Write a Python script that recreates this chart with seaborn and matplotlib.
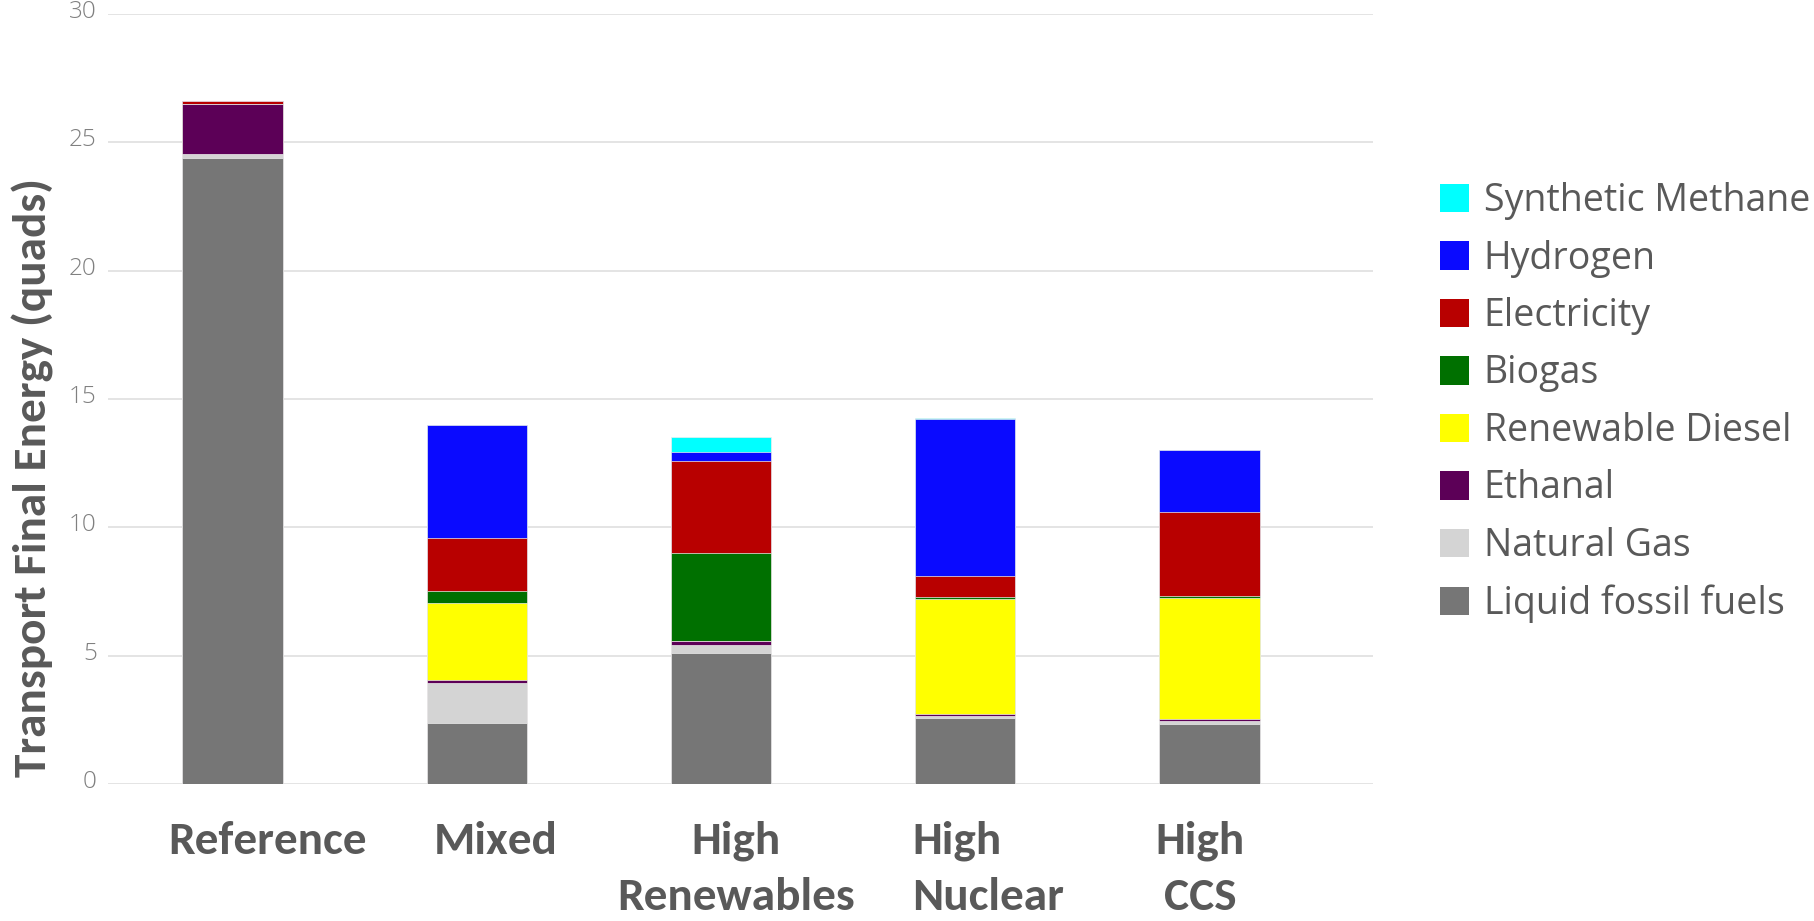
import matplotlib
matplotlib.use("Agg")
import matplotlib.pyplot as plt
from matplotlib.patches import Patch
from matplotlib import font_manager
from matplotlib.transforms import ScaledTranslation
import pandas as pd
import seaborn as sns

# Scenario names and per-fuel transport energy (quads), bottom of stack first
scenarios = ["Reference", "Mixed", "High\nRenewables", "High\nNuclear", "High\nCCS"]
fuels = ["Liquid fossil fuels", "Natural Gas", "Ethanal", "Renewable Diesel",
         "Biogas", "Electricity", "Hydrogen", "Synthetic Methane"]
liquid_fossil = [24.40, 2.36, 5.12, 2.58, 2.34]
natural_gas = [0.15, 1.56, 0.30, 0.05, 0.13]
ethanal = [1.95, 0.13, 0.13, 0.08, 0.07]
renewable_diesel = [0.00, 3.00, 0.00, 4.48, 4.69]
biogas = [0.00, 0.45, 3.44, 0.08, 0.10]
electricity = [0.10, 2.10, 3.60, 0.85, 3.26]
hydrogen = [0.00, 4.40, 0.35, 6.10, 2.43]
synthetic_methane = [0.00, 0.00, 0.58, 0.05, 0.00]
y_ticks = [0, 5, 10, 15, 20, 25, 30]

colors = {
    "Synthetic Methane": "#00FFFF",
    "Hydrogen": "#0A0AFF",
    "Electricity": "#B80000",
    "Biogas": "#007000",
    "Renewable Diesel": "#FFFF00",
    "Ethanal": "#5C0057",
    "Natural Gas": "#D4D4D4",
    "Liquid fossil fuels": "#767676",
}

series = [liquid_fossil, natural_gas, ethanal, renewable_diesel,
          biogas, electricity, hydrogen, synthetic_methane]
rows = []
for fuel, vals in zip(fuels, series):
    for sc, v in zip(scenarios, vals):
        rows.append({"scenario": sc, "fuel": fuel, "value": v})
df = pd.DataFrame(rows)
df["fuel"] = pd.Categorical(df["fuel"], categories=fuels, ordered=True)
df = df.sort_values(["scenario", "fuel"])
df["top"] = df.groupby("scenario", observed=True)["value"].cumsum()

available = {f.name for f in font_manager.fontManager.ttflist}
title_font = next((f for f in ["Carlito", "Open Sans Condensed", "Liberation Sans Narrow"]
                   if f in available), "DejaVu Sans")
body_font = "Open Sans" if "Open Sans" in available else "DejaVu Sans"

sns.set_theme(style="white")
plt.rcParams["font.family"] = [body_font, "DejaVu Sans"]

fig = plt.figure(figsize=(18.14, 9.21), dpi=100)
ax = fig.add_axes([0.0595, 0.1488, 0.6975, 0.8362])

# Stacked bars: draw cumulative tops from the highest layer down
for fuel in reversed(fuels):
    sub = df[df["fuel"] == fuel]
    sns.barplot(data=sub, x="scenario", y="top", order=scenarios,
                color=colors[fuel], saturation=1, width=0.41,
                errorbar=None, edgecolor="#EEEEEE", linewidth=0.5, ax=ax)

ax.set_xlim(-0.51, 4.67)
ax.set_ylim(0, 30)
ax.set_yticks(y_ticks)
ax.set_yticklabels([str(t) for t in y_ticks], color="#808080", fontsize=17.5,
                   fontweight=300)
ax.tick_params(axis="y", length=0, pad=8)
# tick labels sit slightly above their gridlines
lift = ScaledTranslation(0, 5 / 100, fig.dpi_scale_trans)
for lbl in ax.get_yticklabels():
    lbl.set_transform(lbl.get_transform() + lift)
ax.set_xticks([])
ax.set_xlabel("")
ax.set_ylabel("")
ax.grid(axis="y", color="#E4E4E4", linewidth=1.4)
ax.set_axisbelow(True)
for s in ax.spines.values():
    s.set_visible(False)

# Scenario labels under the bars
label_x = [0.143, 1.078, 2.06, 2.783, 3.96]
label_ha = ["center", "center", "center", "left", "center"]
for i, (name, ha) in enumerate(zip(scenarios, label_ha)):
    ax.text(label_x[i], -0.048, name, transform=ax.get_xaxis_transform(),
            ha=ha, va="top", multialignment=ha, fontsize=34,
            fontweight="bold", family=title_font, color="#595959", linespacing=1.47)

fig.text(33 / 1814, 0.481, "Transport Final Energy (quads)", rotation=90,
         ha="center", va="center", fontsize=34, fontweight="bold",
         family=title_font, color="#595959")

handles = [Patch(facecolor=colors[f], edgecolor="none", label=f) for f in reversed(fuels)]
fig.legend(handles=handles, loc="upper left", bbox_to_anchor=(1440 / 1814, 1 - 182 / 921),
           frameon=False, prop={"family": body_font, "size": 27},
           handlelength=0.78, handleheight=0.78,
           handletextpad=0.38, labelspacing=0.52, borderpad=0, borderaxespad=0,
           labelcolor="#595959")

fig.savefig("out.png", dpi=100)
